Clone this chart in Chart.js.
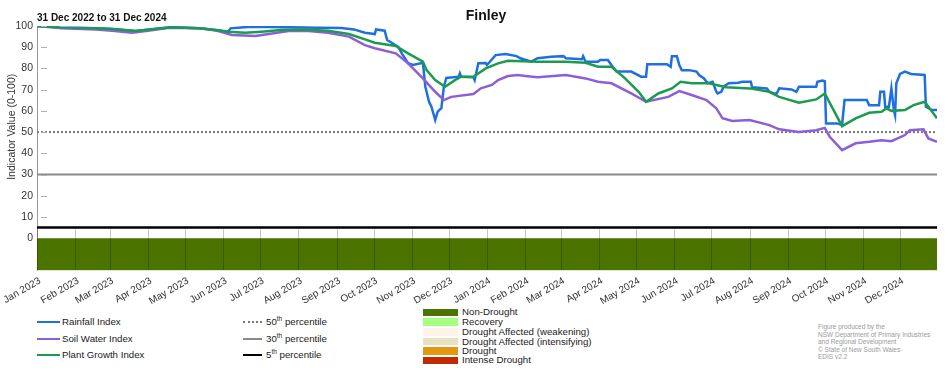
<!DOCTYPE html>
<html><head><meta charset="utf-8">
<script src="https://cdn.jsdelivr.net/npm/chart.js@4"></script>
<style>
html,body{margin:0;padding:0;background:#fff;}
body{width:952px;height:370px;position:relative;overflow:hidden;font-family:"Liberation Sans",Arial,sans-serif;color:#222;}
#c{position:absolute;left:0;top:0;}
.t{position:absolute;white-space:nowrap;line-height:10px;font-size:9.7px;color:#1a1a1a;}
.ln{position:absolute;width:23px;height:0;}
.sw{position:absolute;left:423px;width:35px;height:7.5px;}
.cr{position:absolute;left:818px;font-size:6.5px;line-height:7.6px;color:#9a9a9a;white-space:nowrap;}
sup{font-size:6.5px;line-height:0;vertical-align:4px;}
</style></head><body>
<canvas id="c" width="952" height="305"></canvas>
<div class="t" style="left:0;width:972px;top:8px;text-align:center;font-weight:bold;font-size:14px;line-height:14px;color:#111;">Finley</div>
<div class="t" style="left:37px;top:13px;font-weight:bold;font-size:10px;color:#111;">31 Dec 2022 to 31 Dec 2024</div>

<div class="ln" style="left:37px;top:321px;border-top:2.5px solid #1f6fe3;"></div>
<div class="t" style="left:62px;top:317px;">Rainfall Index</div>
<div class="ln" style="left:37px;top:337.5px;border-top:2.5px solid #8c5fd8;"></div>
<div class="t" style="left:62px;top:333.5px;">Soil Water Index</div>
<div class="ln" style="left:37px;top:354px;border-top:2.5px solid #1a9c4c;"></div>
<div class="t" style="left:62px;top:350px;">Plant Growth Index</div>

<div class="ln" style="left:243px;width:19px;top:321px;border-top:2px dotted #777;"></div>
<div class="t" style="left:266px;top:317px;">50<sup>th</sup> percentile</div>
<div class="ln" style="left:243px;width:19px;top:337.5px;border-top:2.5px solid #8a8a8a;"></div>
<div class="t" style="left:266px;top:333.5px;">30<sup>th</sup> percentile</div>
<div class="ln" style="left:243px;width:19px;top:354px;border-top:2.5px solid #000;"></div>
<div class="t" style="left:266px;top:350px;">5<sup>th</sup> percentile</div>

<div class="sw" style="top:308.5px;background:#4a7300;"></div>
<div class="t" style="left:462px;top:307.3px;">Non-Drought</div>
<div class="sw" style="top:318.2px;background:#a6ff80;"></div>
<div class="t" style="left:462px;top:317px;">Recovery</div>
<div class="sw" style="top:328px;background:#fdf3e8;"></div>
<div class="t" style="left:462px;top:327px;">Drought Affected (weakening)</div>
<div class="sw" style="top:337.7px;background:#ece0c2;"></div>
<div class="t" style="left:462px;top:336.7px;">Drought Affected (intensifying)</div>
<div class="sw" style="top:347px;background:#e3980f;"></div>
<div class="t" style="left:462px;top:345.7px;">Drought</div>
<div class="sw" style="top:356.5px;background:#c02a00;"></div>
<div class="t" style="left:462px;top:355.3px;">Intense Drought</div>

<div class="cr" style="top:323px;">Figure produced by the<br>NSW Department of Primary Industries<br>and Regional Development<br>© State of New South Wales<br>EDIS v2.2</div>

<script>
// ---------- data ----------
const tickDates = ['2023-01-01','2023-02-01','2023-03-01','2023-04-01','2023-05-01','2023-06-01','2023-07-01','2023-08-01','2023-09-01','2023-10-01','2023-11-01','2023-12-01',
  '2024-01-01','2024-02-01','2024-03-01','2024-04-01','2024-05-01','2024-06-01','2024-07-01','2024-08-01','2024-09-01','2024-10-01','2024-11-01','2024-12-01'];
const tickLabels = ['Jan 2023','Feb 2023','Mar 2023','Apr 2023','May 2023','Jun 2023','Jul 2023','Aug 2023','Sep 2023','Oct 2023','Nov 2023','Dec 2023',
  'Jan 2024','Feb 2024','Mar 2024','Apr 2024','May 2024','Jun 2024','Jul 2024','Aug 2024','Sep 2024','Oct 2024','Nov 2024','Dec 2024'];
const yTicks = [0,10,20,30,40,50,60,70,80,90,100];

const plantDates = ['2023-01-01','2023-01-19','2023-02-18','2023-03-03','2023-03-22','2023-04-12','2023-04-20','2023-05-12','2023-05-26','2023-06-05','2023-06-19','2023-07-02','2023-07-18','2023-08-04','2023-08-25','2023-09-11','2023-09-24','2023-10-02','2023-10-19','2023-10-29','2023-11-10','2023-11-13','2023-11-20','2023-11-28','2023-12-06','2023-12-11','2023-12-21','2023-12-31','2024-01-10','2024-01-18','2024-02-11','2024-03-05','2024-03-21','2024-03-31','2024-04-11','2024-04-22','2024-05-03','2024-05-09','2024-05-19','2024-05-30','2024-06-06','2024-06-15','2024-06-29','2024-07-13','2024-08-01','2024-08-17','2024-08-25','2024-09-10','2024-09-24','2024-10-01','2024-10-15','2024-10-26','2024-11-06','2024-11-16','2024-11-20','2024-11-24','2024-12-05','2024-12-12','2024-12-21','2024-12-26','2024-12-31'];
const plantValues = [100,99.4,98.9,98.6,97.6,98.9,99.4,98.9,98.1,97.3,96.8,97.3,98.1,98.4,97.8,96.2,93.7,92.1,90.6,87.1,83.2,79.2,74.5,71.4,74.5,76.1,76.1,80,82.4,83.6,83.2,83.2,82.7,80.8,80.8,75.3,69,64.3,68.2,70.6,73.7,73,73,71.1,70.6,69,66.6,63.8,65.4,68.2,52.8,56.5,59.1,59.6,61.2,60,60.4,62.7,64.3,60.4,56.5];

const soilDates = ['2023-01-01','2023-01-21','2023-02-18','2023-03-03','2023-03-19','2023-04-01','2023-04-18','2023-05-15','2023-05-28','2023-06-08','2023-06-27','2023-07-08','2023-07-24','2023-08-09','2023-08-25','2023-09-11','2023-09-24','2023-10-02','2023-10-19','2023-10-29','2023-11-10','2023-11-20','2023-11-27','2023-12-03','2023-12-21','2023-12-27','2024-01-05','2024-01-10','2024-01-18','2024-01-26','2024-02-01','2024-02-11','2024-03-05','2024-03-21','2024-03-31','2024-04-11','2024-04-27','2024-05-09','2024-05-27','2024-06-05','2024-06-15','2024-06-27','2024-07-05','2024-07-10','2024-07-18','2024-08-01','2024-08-17','2024-08-25','2024-09-10','2024-09-24','2024-10-01','2024-10-05','2024-10-15','2024-10-26','2024-11-06','2024-11-16','2024-11-24','2024-12-05','2024-12-09','2024-12-20','2024-12-24','2024-12-31'];
const soilValues = [100,98.9,98.4,97.8,96.8,97.8,99.2,98.9,97.6,95.8,95.3,96.2,97.6,97.6,96.8,95,91,89.5,87.1,82.4,75.3,69,65.1,66.6,67.9,70.6,72.2,74.5,76.4,76.9,76.4,75.8,76.9,75.3,73.7,73,68.2,64.3,66.6,69.3,67.5,65.1,61.2,56.5,55.2,55.7,53.3,51.3,50.1,50.9,52,47.8,41.5,44.7,45.4,46.2,45.7,48.6,50.9,51.3,47,45.4];

const rainDates = ['2023-01-01','2023-01-19','2023-02-18','2023-03-03','2023-03-22','2023-04-12','2023-04-20','2023-05-12','2023-05-26','2023-06-05','2023-06-07','2023-06-24','2023-08-17','2023-09-05','2023-09-15','2023-09-24','2023-10-02','2023-10-03','2023-10-10','2023-10-12','2023-10-21','2023-10-24','2023-10-29','2023-11-02','2023-11-10','2023-11-12','2023-11-15','2023-11-17','2023-11-20','2023-11-22','2023-11-25','2023-11-27','2023-11-29','2023-12-09','2023-12-10','2023-12-11','2023-12-21','2023-12-22','2023-12-25','2023-12-31','2024-01-01','2024-01-08','2024-01-16','2024-01-25','2024-01-28','2024-02-06','2024-02-11','2024-02-22','2024-03-03','2024-03-05','2024-03-18','2024-03-19','2024-03-21','2024-03-31','2024-04-02','2024-04-08','2024-04-12','2024-04-15','2024-04-27','2024-05-05','2024-05-09','2024-05-10','2024-05-26','2024-05-29','2024-05-30','2024-06-03','2024-06-05','2024-06-07','2024-06-13','2024-06-19','2024-06-21','2024-06-25','2024-06-28','2024-07-02','2024-07-05','2024-07-06','2024-07-09','2024-07-11','2024-07-15','2024-07-23','2024-07-26','2024-08-02','2024-08-03','2024-08-15','2024-08-17','2024-08-21','2024-08-23','2024-08-25','2024-09-04','2024-09-08','2024-09-10','2024-09-24','2024-09-25','2024-09-29','2024-10-01','2024-10-02','2024-10-11','2024-10-15','2024-10-17','2024-11-04','2024-11-06','2024-11-14','2024-11-15','2024-11-18','2024-11-19','2024-11-22','2024-11-24','2024-11-26','2024-11-27','2024-11-28','2024-12-01','2024-12-05','2024-12-10','2024-12-21','2024-12-22','2024-12-27','2024-12-31'];
const rainValues = [100,99.4,98.9,98.6,97.6,98.9,99.4,98.9,98.1,97.3,98.9,99.7,99.2,99,98.4,96.8,96.2,98.4,97.8,93.4,90.2,87,82.5,81.6,82.7,71.4,64.3,61.9,55.7,59.6,61.3,71.4,75.5,76.1,77.7,76.1,75.8,74.5,82.4,82.5,81.6,86.3,86.8,85.8,84.8,83.2,84.8,85.5,85.8,84.8,84.3,85.8,83.2,83.2,84,84,80.8,78.5,78.5,76.1,76.1,82,82,80.8,85.8,85.8,81.6,79.2,79.2,78.5,76.9,75.3,73,73.7,69,68.2,69,71.4,73,73.3,73.7,73.7,71.1,70.6,69,68.2,68.2,70.6,70.1,69,71.4,71.4,73.7,74.3,74,54.1,54.1,53.3,65.1,65.1,62.7,62.7,69,69,61.9,61.9,70.6,60.4,58,73,77.4,78.5,77.4,76.9,61.9,60.4,60.4];

const percentileNames = ['50th percentile','30th percentile','5th percentile'];
const percentileValues = [50,30,5];

const droughtStart = ['2023-01-01'];
const droughtEnd = ['2024-12-31'];
const droughtClass = ['Non-Drought'];

// ---------- helpers ----------
const ORIGIN = Date.UTC(2023,0,1);
function dayOf(s){const p=s.split('-').map(Number);return (Date.UTC(p[0],p[1]-1,p[2])-ORIGIN)/86400000;}
const tickDays = tickDates.map(dayOf);
const X_MIN = dayOf('2023-01-01'), X_MAX = dayOf('2024-12-31');
const Y_MIN = -15, Y_MAX = 100;
const FONT = '"Liberation Sans", Arial, sans-serif';
const classColors = {'Non-Drought':'#4a7300','Recovery':'#a6ff80','Drought Affected (weakening)':'#fdf3e8','Drought Affected (intensifying)':'#ece0c2','Drought':'#e3980f','Intense Drought':'#c02a00'};

function series(label, dates, vals, color, order, width){
  return {label, data: dates.map((d,i)=>({x:dayOf(d), y:vals[i]})), borderColor:color, backgroundColor:color,
    borderWidth:width, pointRadius:0, tension:0, fill:false, order};
}

const datasets = [];
droughtClass.forEach((c,i)=>{
  datasets.push({label:c, data:[{x:dayOf(droughtStart[i]),y:0},{x:dayOf(droughtEnd[i]),y:0}],
    borderWidth:0, borderColor:'rgba(0,0,0,0)', backgroundColor:classColors[c], pointRadius:0, fill:{value:Y_MIN}, order:20});
});
const pctStyles = [{c:'#777',w:2,dash:[2,2]},{c:'#8a8a8a',w:2.2,dash:[]},{c:'#000',w:2.5,dash:[]}];
percentileValues.forEach((v,i)=>{
  const s = series(percentileNames[i], [tickDates[0], '2024-12-31'], [v,v], pctStyles[i].c, 10+i, pctStyles[i].w);
  s.borderDash = pctStyles[i].dash;
  datasets.push(s);
});
datasets.push(series('Rainfall Index', rainDates, rainValues, '#1f6fe3', 3, 2.5));
datasets.push(series('Soil Water Index', soilDates, soilValues, '#8c5fd8', 2, 2.5));
datasets.push(series('Plant Growth Index', plantDates, plantValues, '#1a9c4c', 1, 2.5));

const overlay = {
  id:'overlay',
  afterDatasetsDraw(chart){
    const {ctx, chartArea:a, scales:{x,y}} = chart;
    ctx.save();
    ctx.strokeStyle='rgba(0,0,0,0.22)'; ctx.lineWidth=1;
    const yTop = y.getPixelForValue(5)+1.5;
    tickDays.forEach(d=>{const px=Math.round(x.getPixelForValue(d))+0.5; ctx.beginPath(); ctx.moveTo(px,yTop); ctx.lineTo(px,a.bottom); ctx.stroke();});
    ctx.strokeStyle='#b0b0b0';
    yTicks.filter(v=>v>0).forEach(v=>{const py=Math.round(y.getPixelForValue(v))+0.5; ctx.beginPath(); ctx.moveTo(a.left+4,py); ctx.lineTo(a.left+10,py); ctx.stroke();});
    ctx.fillStyle='#333'; ctx.font='10.5px '+FONT; ctx.textAlign='center'; ctx.textBaseline='middle';
    ctx.translate(12,(y.getPixelForValue(5)+y.getPixelForValue(100))/2); ctx.rotate(-Math.PI/2);
    ctx.fillText('Indicator Value (0-100)',0,0);
    ctx.restore();
  }
};

new Chart(document.getElementById('c'), {
  type:'line',
  data:{datasets},
  plugins:[overlay],
  options:{
    responsive:false, animation:false, devicePixelRatio:1,
    layout:{padding:{top:26,right:15,left:0,bottom:0}},
    plugins:{legend:{display:false}, tooltip:{enabled:false}},
    scales:{
      x:{type:'linear', min:X_MIN, max:X_MAX,
        afterBuildTicks:(s)=>{s.ticks=tickDays.map(v=>({value:v}));},
        ticks:{autoSkip:false, minRotation:30, maxRotation:30, padding:5, labelOffset:3, color:'#333', font:{size:10,family:FONT},
          callback:(v)=>{const i=tickDays.indexOf(v);return i>=0?tickLabels[i]:'';}},
        grid:{display:false, drawTicks:false},
        border:{display:true, color:'#dfe9d0'},
        afterFit:(s)=>{s.height=35; s.paddingLeft=0; s.paddingRight=0;}
      },
      y:{type:'linear', min:Y_MIN, max:Y_MAX,
        afterBuildTicks:(s)=>{s.ticks=yTicks.map(v=>({value:v}));},
        ticks:{color:'#333', padding:4, font:{size:10.5,family:FONT}},
        grid:{display:false, drawTicks:false},
        border:{display:true, color:'#999'},
        afterFit:(s)=>{s.width=37;}
      }
    }
  }
});
</script>
</body></html>
